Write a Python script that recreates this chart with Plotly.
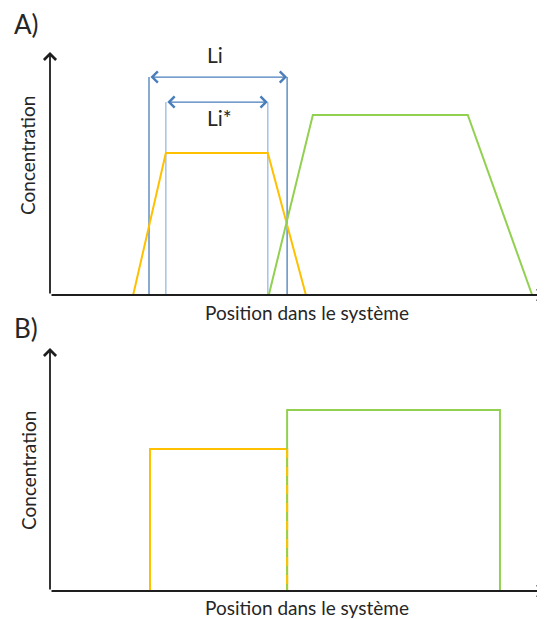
import plotly.graph_objects as go

# ---------------- data (position along system, concentration) ----------------
posA_orange = [16.8, 23.4, 44.0, 51.7]
concA_orange = [0, 58.4, 58.4, 0]
posA_green = [44.2, 53.1, 84.4, 97.4]
concA_green = [0, 74.1, 74.1, 0]
li_bounds = [20.0, 47.9]
li_star_bounds = [23.4, 44.0]
li_level = 89.7
li_star_level = 79.4
posB_orange = [20.2, 20.2, 47.9, 47.9]
concB_orange = [0, 58.4, 58.4, 0]
posB_green = [47.9, 47.9, 90.9, 90.9]
concB_green = [0, 74.5, 74.5, 0]
axis_max = 100

# ---------------- layout geometry (pixels, page coords) ----------------
OFF = 8                     # default page body margin
W, H = 545 - OFF, 619 - OFF
X0, XS = 50 - OFF, 4.95     # px of x=0, px per unit
YA0, YB0, YS = 295 - OFF, 591 - OFF, 2.43
PAD = 3

ORANGE = "#FFC000"
GREEN = "#92D050"
BLUE = "#4A7EBB"
LBLUE = "#A7C2E4"
AX = "#1e1e1e"
TXT = "#262626"
FONT = "Lato"

def ydom(y0):
    bottom = y0 + PAD * YS
    top = y0 - (axis_max + PAD) * YS
    return [1 - bottom / H, 1 - top / H]

fig = go.Figure()

def line(x, y, color, xa, ya, width=2, dash=None):
    fig.add_trace(go.Scatter(x=x, y=y, mode="lines", xaxis=xa, yaxis=ya,
                             line=dict(color=color, width=width, dash=dash),
                             hoverinfo="skip", showlegend=False))

# Panel A
for xb in li_bounds:
    line([xb, xb], [0, li_level], BLUE, "x", "y", width=1.3)
for xb in li_star_bounds:
    line([xb, xb], [0, li_star_level], LBLUE, "x", "y", width=1.5)
line(posA_orange, concA_orange, ORANGE, "x", "y")
line(posA_green, concA_green, GREEN, "x", "y")

# Panel B
line(posB_orange, concB_orange, ORANGE, "x2", "y2")
line(posB_green, concB_green, GREEN, "x2", "y2")
line(posB_orange[2:], concB_orange[2:], ORANGE, "x2", "y2", dash="dash")

ann = []
def arrow(x, y, ax, ay, xr, yr, color, width, size, side="end"):
    ann.append(dict(x=x, y=y, ax=ax, ay=ay, xref=xr, yref=yr, axref=xr, ayref=yr,
                    text="", showarrow=True, arrowhead=4, startarrowhead=4,
                    arrowside=side, arrowwidth=width, arrowsize=size,
                    startarrowsize=size, arrowcolor=color, standoff=0, startstandoff=0))

for xr, yr in (("x", "y"), ("x2", "y2")):
    arrow(0, axis_max, 0, 0, xr, yr, AX, 1.8, 1.3)
    arrow(axis_max, 0, 0, 0, xr, yr, AX, 1.8, 1.3)

arrow(li_bounds[1], li_level, li_bounds[0], li_level, "x", "y", BLUE, 1.2, 1.8, "end+start")
arrow(li_star_bounds[1], li_star_level, li_star_bounds[0], li_star_level, "x", "y", BLUE, 1.2, 1.8, "end+start")

def text(t, px, py, size, angle=0):
    ann.append(dict(text=t, x=(px - OFF) / W, y=1 - (py - OFF) / H, xref="paper", yref="paper",
                    showarrow=False, xanchor="center", yanchor="middle",
                    textangle=angle, font=dict(family=FONT, size=size, color=TXT)))

text("A)", 26, 24, 26)
text("B)", 26, 328, 26)
text("Concentration", 28, 156, 19, -90)
text("Concentration", 28, 471, 19, -90)
text("Position dans le système", 307, 312, 19)
text("Position dans le système", 307, 607, 19)

ann.append(dict(text="Li", x=sum(li_bounds) / 2 - 0.6, y=98.8, xref="x", yref="y",
                showarrow=False, font=dict(family=FONT, size=21, color=TXT)))
ann.append(dict(text="Li*", x=sum(li_star_bounds) / 2 + 0.6, y=73.2, xref="x", yref="y",
                showarrow=False, font=dict(family=FONT, size=21, color=TXT)))

xrange = [-PAD, (W - X0) / XS]
xdom = [(X0 - PAD * XS) / W, 1]
common = dict(visible=False, fixedrange=True)
fig.update_layout(
    width=W, height=H, autosize=False,
    margin=dict(l=0, r=0, t=0, b=0),
    paper_bgcolor="white", plot_bgcolor="white",
    xaxis=dict(domain=xdom, range=xrange, **common),
    yaxis=dict(domain=ydom(YA0), range=[-PAD, axis_max + PAD], **common),
    xaxis2=dict(domain=xdom, range=xrange, anchor="y2", **common),
    yaxis2=dict(domain=ydom(YB0), range=[-PAD, axis_max + PAD], anchor="x2", **common),
    annotations=ann,
    showlegend=False,
)
fig.write_html("out.html", config={"displayModeBar": False})
